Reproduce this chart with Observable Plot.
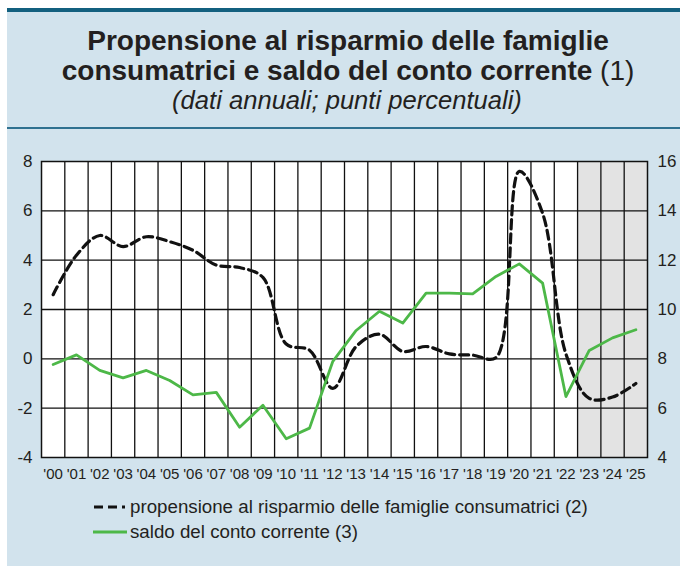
<!DOCTYPE html>
<html><head><meta charset="utf-8">
<script src="https://cdn.jsdelivr.net/npm/d3@7"></script>
<script src="https://cdn.jsdelivr.net/npm/@observablehq/plot@0.6"></script>
<style>
html,body{margin:0;padding:0;background:#fff;width:680px;height:566px;overflow:hidden;font-family:"Liberation Sans",Arial,sans-serif;}
#panel{position:absolute;left:7px;top:8px;width:673px;height:558px;background:#d2e3ed;border-top:4px solid #13607f;box-sizing:border-box;}
#sep{position:absolute;left:7px;top:127px;width:673px;height:1.5px;background:#2f7190;}
#chart{position:absolute;left:0;top:140px;}
#overlay{position:absolute;left:0;top:0;}
</style></head><body>
<div id="panel"></div><div id="sep"></div><div id="chart"></div>
<svg id="overlay" width="680" height="566" xmlns="http://www.w3.org/2000/svg"></svg>
<script>
// ---- data ----
const years = d3.range(2000, 2026);
const yearLabels = years.map(y => "'" + String(y).slice(2));
// saldo del conto corrente (left axis)
const currentAccount = [-0.23,0.16,-0.47,-0.77,-0.47,-0.88,-1.46,-1.36,-2.77,-1.88,-3.24,-2.81,-0.1,1.15,1.93,1.45,2.66,2.66,2.63,3.34,3.85,3.07,-1.53,0.34,0.85,1.18];
// propensione al risparmio delle famiglie consumatrici (right axis)
const savingRate = [10.6,12.2,13.0,12.55,12.95,12.75,12.4,11.8,11.7,11.3,8.6,8.35,6.8,8.5,9.0,8.3,8.5,8.2,8.15,8.05,15.6,13.9,8.2,6.4,6.45,7.0];
const leftTicks = [-4,-2,0,2,4,6,8];
const gridY = [-2,0,2,4,6];
const rightOffset = 8; // right axis = left axis + 8
const forecastYears = [2023, 2025];

const rows = years.map((year, i) => ({year, ca: currentAccount[i], sr: savingRate[i]}));
const bounds = years.slice(0, -1).map(y => y + 0.5);

const chart = Plot.plot({
  width: 680, height: 350,
  marginLeft: 41, marginRight: 33, marginTop: 21, marginBottom: 33,
  style: {background: "transparent", fontFamily: "'Liberation Sans', Arial, sans-serif", color: "#231f20"},
  x: {domain: [years[0] - 0.5, years[years.length - 1] + 0.5]},
  y: {domain: [leftTicks[0], leftTicks[leftTicks.length - 1]]},
  marks: [
    Plot.frame({fill: "white"}),
    Plot.rect([{a: forecastYears[0] - 0.5, b: forecastYears[1] + 0.5}], {x1: "a", x2: "b", y1: leftTicks[0], y2: leftTicks[leftTicks.length - 1], fill: "#e3e3e3"}),
    Plot.ruleX(bounds, {stroke: "#111", strokeWidth: 1.3}),
    Plot.ruleY(gridY, {stroke: "#111", strokeWidth: 1.3}),
    Plot.line(rows, {x: "year", y: d => d.sr - rightOffset, stroke: "#111", strokeWidth: 3.2, strokeDasharray: "9,5", curve: "catmull-rom"}),
    Plot.line(rows, {x: "year", y: "ca", stroke: "#4db848", strokeWidth: 2.8, strokeLinejoin: "round"}),
    Plot.frame({stroke: "#111", strokeWidth: 1.5}),
    Plot.axisY(leftTicks, {anchor: "left", label: null, tickSize: 0, tickPadding: 9, fontSize: 17, tickFormat: d => String(d)}),
    Plot.axisY(leftTicks, {anchor: "right", label: null, tickSize: 0, tickPadding: 10, fontSize: 17, tickFormat: d => String(d + rightOffset)}),
    Plot.axisX(years, {anchor: "bottom", label: null, tickSize: 0, tickPadding: 11, fontSize: 15, tickFormat: d => yearLabels[years.indexOf(d)]})
  ]
});
document.getElementById("chart").appendChild(chart);

// ---- header & legend ----
const ov = d3.select("#overlay");
const FF = "'Liberation Sans', Arial, sans-serif";
function fit(sel, target) {
  const el = sel.node();
  const w = el.getComputedTextLength();
  const fs = parseFloat(sel.attr("font-size"));
  sel.attr("font-size", fs * target / w);
}
const t1 = ov.append("text").attr("x", 348).attr("y", 50).attr("text-anchor", "middle")
  .attr("font-family", FF).attr("font-size", 28).attr("font-weight", "bold").attr("fill", "#231f20")
  .text("Propensione al risparmio delle famiglie");
fit(t1, 522);
const t2 = ov.append("text").attr("x", 348).attr("y", 80).attr("text-anchor", "middle")
  .attr("font-family", FF).attr("font-size", 28).attr("fill", "#231f20");
t2.append("tspan").attr("font-weight", "bold").text("consumatrici e saldo del conto corrente ");
t2.append("tspan").text("(1)");
fit(t2, 573);
const t3 = ov.append("text").attr("x", 347).attr("y", 109).attr("text-anchor", "middle")
  .attr("font-family", FF).attr("font-size", 25).attr("font-style", "italic").attr("fill", "#231f20")
  .text("(dati annuali; punti percentuali)");
fit(t3, 350);

ov.append("line").attr("x1", 94).attr("x2", 125).attr("y1", 507).attr("y2", 507)
  .attr("stroke", "#111").attr("stroke-width", 3.2).attr("stroke-dasharray", "9,5");
ov.append("line").attr("x1", 93).attr("x2", 127).attr("y1", 532).attr("y2", 532)
  .attr("stroke", "#4db848").attr("stroke-width", 3);
const l1 = ov.append("text").attr("x", 130).attr("y", 513).attr("font-family", FF).attr("font-size", 18).attr("fill", "#231f20")
  .text("propensione al risparmio delle famiglie consumatrici (2)");
fit(l1, 458);
ov.append("text").attr("x", 130).attr("y", 538).attr("font-family", FF).attr("font-size", l1.attr("font-size")).attr("fill", "#231f20")
  .text("saldo del conto corrente (3)");
</script>
</body></html>
